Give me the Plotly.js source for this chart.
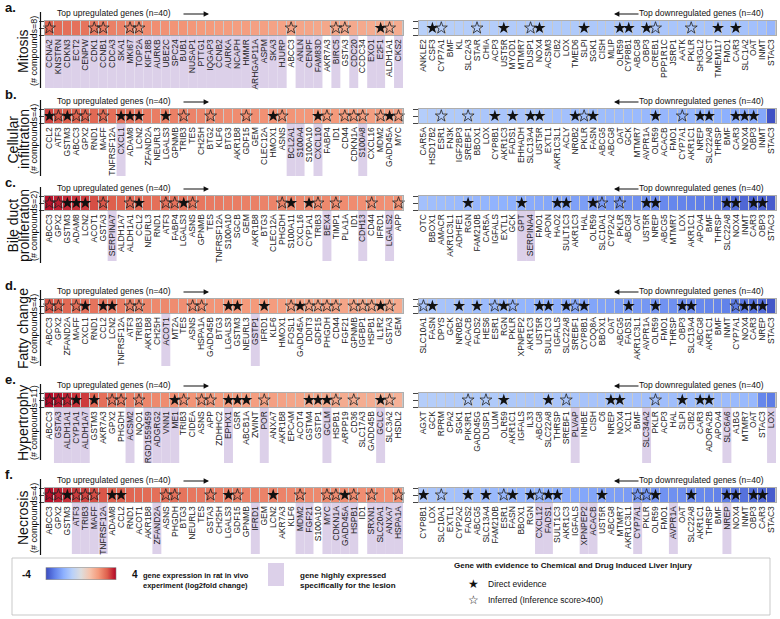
<!DOCTYPE html>
<html><head><meta charset="utf-8">
<script src="https://cdn.plot.ly/plotly-3.0.1.min.js"></script>
<style>body{margin:0;background:#fff}</style>
</head><body><div id="chart" style="width:780px;height:619px"></div>
<script>
// ---------------- DATA ----------------
const mitosisUpGenes = ['CCNA2','KNSTRN','CDKN3','ECT2','CENPW','CDK1','CCNB1','CDCA3','SKA1','MKI67','TOP2A','KIF18B','AURKB','UBE2C','SPC24','BUB1','NUSAP1','PTTG1','IQGAP3','CCNB2','AURKA','NCAPH','HMMR','ARHGAP11A','ASPM','SKA3','HJURP','ABCC3','ANLN','CENPF','FAM83D','AKR7A3','BIRC5','GSTA3','CDC20','CCDC34','EXO1','E2F1','ALDH1A1','CKS2'];
const mitosisUpValues = [2.9,2.8,2.75,2.7,2.65,2.55,2.5,2.45,2.4,2.35,2.3,2.25,2.2,2.15,2.1,2.1,2.05,2.0,2.0,1.95,1.95,1.9,1.9,1.85,1.85,1.8,1.8,1.8,1.75,1.75,1.7,1.7,1.7,1.65,1.65,1.65,1.6,1.6,1.6,1.6];
const mitosisUpDirect = ['E2F1'];
const mitosisUpInferred = ['CCNA2','CDK1','CCNB1','MKI67','TOP2A','ABCC3','BIRC5','GSTA3','ALDH1A1'];
const mitosisUpSpecific = ['CCNA2','KNSTRN','CDKN3','ECT2','CENPW','CDK1','CCNB1','CDCA3','SKA1','MKI67','TOP2A','KIF18B','AURKB','UBE2C','SPC24','BUB1','NUSAP1','PTTG1','IQGAP3','CCNB2','AURKA','NCAPH','HMMR','ARHGAP11A','ASPM','SKA3','HJURP','ANLN','CENPF','FAM83D','BIRC5','CDC20','EXO1','E2F1','CKS2'];

const mitosisDownGenes = ['ANKLE2','CSF3','CYP7A1','BMF','KL','SLC2A3','STAR','CHIA','ACP3','UST5R','MYOD1','MTMR7','DUSP1','NOX4','ACSM3','CIB2','LOX','TMED6','SLPI','SGK1','CISH','MLIP','OLR59','CYP8B1','ABCG8','OBP3','CREB1','PPP1R1C','JSRP1','AATK','PKLR','SH3GL2','NOCT','TMEM117','FMO1','CAR3','SLC1A2','OAT','INMT','STAC3'];
const mitosisDownValues = [-1.0,-1.0,-1.05,-1.05,-1.05,-1.1,-1.1,-1.1,-1.1,-1.15,-1.15,-1.15,-1.15,-1.2,-1.2,-1.2,-1.2,-1.2,-1.25,-1.25,-1.25,-1.25,-1.25,-1.3,-1.3,-1.3,-1.3,-1.3,-1.35,-1.35,-1.35,-1.35,-1.4,-1.4,-1.4,-1.45,-1.45,-1.5,-1.55,-1.8];
const mitosisDownDirect = ['CSF3','UST5R','NOX4','SLPI','OLR59','CYP8B1','OBP3','TMEM117','CAR3'];
const mitosisDownInferred = ['CYP7A1','STAR','DUSP1','CREB1','PKLR'];
const mitosisDownSpecific = [];

const cellUpGenes = ['CCL2','ATF3','GSTM3','ABCC3','GPX2','RND1','MAFF','TNFRSF12A','CXCL1','ADAM8','LCN2','ZFAND2A','NEURL3','LGALS3','GPNMB','TRIB3','TES','CH25H','BTG2','KLF6','BTG3','AKR1B8','GDF15','GEM','CLEC12A','HMOX1','ASNS','BCL2A1','S100A4','S100A10','CXCL10','FABP4','ID1','CD44','CDKN1A','S100A8','CXCL16','MDM2','GADD45A','MYC'];
const cellUpValues = [3.3,3.1,3.0,2.95,2.9,2.85,2.8,2.75,2.7,2.65,2.6,2.55,2.5,2.45,2.45,2.4,2.4,2.35,2.3,2.3,2.25,2.25,2.2,2.2,2.15,2.15,2.1,2.1,2.05,2.05,2.0,2.0,2.0,1.95,1.95,1.9,1.9,1.9,1.85,1.85];
const cellUpDirect = ['CCL2','GSTM3','CXCL1','ADAM8','LCN2','LGALS3','HMOX1','CXCL10','GADD45A'];
const cellUpInferred = ['ATF3','ABCC3','GPX2','MAFF','TRIB3','BTG2','GDF15','ASNS','FABP4','CD44','CDKN1A','S100A8','MDM2','MYC'];
const cellUpSpecific = ['CXCL1','BCL2A1','S100A4','CXCL10','S100A8'];

const cellDownGenes = ['CAR5A','HSD17B2','ESR1','FN3K','IGF2BP3','SREBF1','BBOX1','LOX','CYP8B1','AKR1C3','FADS1','EHHADH','SLC13A4','UST5R','EXTL1','AKR1C3L1','ACLY','NR0B2','PKLR','FASN','ABCG5','ABCG8','OAT','GCK','MTMR7','AVPR1A','OLR59','ACACB','FMO1','CYP7A1','AKR1C1','NREP','SLC22A8','THRSP','BMF','CAR3','NOX4','OBP3','INMT','STAC3'];
const cellDownValues = [-1.1,-1.15,-1.15,-1.2,-1.2,-1.25,-1.25,-1.3,-1.3,-1.35,-1.35,-1.4,-1.4,-1.45,-1.45,-1.5,-1.5,-1.55,-1.55,-1.6,-1.6,-1.65,-1.65,-1.7,-1.7,-1.75,-1.75,-1.8,-1.8,-1.85,-1.85,-1.9,-1.9,-1.95,-2.0,-2.05,-2.1,-2.15,-2.2,-3.9];
const cellDownDirect = ['CYP8B1','FADS1','SLC13A4','UST5R','NR0B2','FASN','OLR59','NREP','SLC22A8','CAR3','NOX4','OBP3'];
const cellDownInferred = ['ESR1','SREBF1','PKLR','CYP7A1'];
const cellDownSpecific = [];

const bileUpGenes = ['ABCC3','GPX2','GSTM3','ADAM8','LCN2','ACOT1','GSTA3','SERPINA7','ALDH1A7','ALDH1A1','CCL2','NEURL3','RND1','ATF3','FABP4','LGALS3','ASNS','GPNMB','TES','TNFRSF12A','S100A10','SGCB','GEM','AKR1B8','BTG3','CLEC12A','PHGDH','S100A11','CXCL16','CYP1A1','TRIB3','BEX4','TIMP1','PLA1A','ID1','CDH13','CD44','IFRD1','LGALS2','APP'];
const bileUpValues = [3.85,3.7,3.6,3.5,3.4,3.2,3.1,3.0,2.95,2.9,2.85,2.8,2.75,2.7,2.7,2.65,2.6,2.6,2.55,2.55,2.5,2.5,2.45,2.45,2.4,2.4,2.4,2.35,2.35,2.3,2.3,2.3,2.25,2.25,2.25,2.2,2.2,2.2,2.15,2.15];
const bileUpDirect = ['GSTM3','ADAM8','LCN2','CCL2','LGALS3','S100A11','CYP1A1'];
const bileUpInferred = ['ABCC3','GPX2','GSTA3','ALDH1A1','ATF3','FABP4','ASNS','PHGDH','TRIB3','TIMP1','CD44','APP'];
const bileUpSpecific = ['SERPINA7','BEX4','CDH13','LGALS2'];

const bileDownGenes = ['OTC','BBOX1','AMACR','AKR1C3L1','ADHFE1','RGN','FAM210B','CAR5A','IGFALS','EXTL1','GCK','GPT','SERPINA4','FMO1','APON','HAO2','SULT1C3','AKR1C3','HAL','OLR59','SLC10A1','CYP2A2','PKLR','ABCG8','OAT','UST5R','NREP','ABCG5','MTMR7','LOX','AKR1C1','APOA4','BMF','THRSP','SLC22A8','NOX4','INMT','CAR3','OBP3','STAC3'];
const bileDownValues = [-1.5,-1.55,-1.6,-1.65,-1.7,-1.75,-1.8,-1.85,-1.9,-1.95,-2.0,-2.05,-2.1,-2.15,-2.2,-2.25,-2.3,-2.35,-2.4,-2.45,-2.5,-2.55,-2.6,-2.65,-2.7,-2.75,-2.8,-2.85,-2.9,-2.95,-3.0,-3.05,-3.1,-3.15,-3.4,-3.45,-3.5,-3.55,-3.6,-3.7];
const bileDownDirect = ['RGN','GPT','HAO2','SULT1C3','OLR59','UST5R','NREP','SLC22A8','NOX4','CAR3','OBP3'];
const bileDownInferred = ['SLC10A1','PKLR'];
const bileDownSpecific = ['GPT','SERPINA4'];

const fattyUpGenes = ['ABCC3','GPX2','ZFAND2A','MAFF','CXCL1','RND1','CCL2','LCN2','TNFRSF12A','ATF3','TRIB3','AKR1B8','CH25H','ACOT1','MT2A','TES','ASNS','HSPA1A','GADD45B','BTG3','LGALS3','GSTM3','NEURL3','GSTP1','IFRD1','KLF6','HMOX1','FOSL1','GADD45A','DDIT3','GDF15','PHGDH','CD44','FGF21','GPNMB','IGFBP1','HSPB1','IL1R2','GSTA3','GEM'];
const fattyUpValues = [3.1,2.95,2.85,2.75,2.7,2.65,2.6,2.55,2.5,2.45,2.4,2.35,2.3,2.3,2.25,2.2,2.2,2.15,2.1,2.1,2.05,2.05,2.0,2.0,1.95,1.95,1.9,1.9,1.85,1.85,1.8,1.8,1.8,1.75,1.75,1.7,1.7,1.7,1.65,1.65];
const fattyUpDirect = ['CXCL1','CCL2','LCN2','LGALS3','GSTM3','IFRD1','GADD45A','IL1R2'];
const fattyUpInferred = ['ABCC3','GPX2','MAFF','ATF3','TRIB3','ASNS','HSPA1A','FOSL1','DDIT3','GDF15','PHGDH','CD44','GPNMB','IGFBP1','HSPB1','GSTA3'];
const fattyUpSpecific = ['ACOT1','GSTP1'];

const fattyDownGenes = ['SLC10A1','FASN','DPYS','GCK','NR0B2','ACACB','FADS2','HES6','ESR1','RGN','PKLR','XPNPEP2','AKR1C3','UST5R','SULT1C3','IGFALS','SLC22A8','SREBF1','CYP8B1','COQ8A','BBOX1','OAT','ABCG5','FADS1','AKR1C3L1','AVPR1A','OLR59','FMO1','THRSP','OBP3','SLC13A4','ABCG8','AKR1C1','BMF','INMT','CYP7A1','NOX4','CAR3','NREP','STAC3'];
const fattyDownValues = [-1.3,-1.35,-1.4,-1.45,-1.5,-1.55,-1.6,-1.65,-1.7,-1.75,-1.8,-1.85,-1.9,-1.95,-2.0,-2.05,-2.1,-2.15,-2.2,-2.25,-2.3,-2.35,-2.4,-2.45,-2.5,-2.55,-2.6,-2.65,-2.7,-2.75,-2.8,-2.85,-2.9,-2.95,-3.0,-3.1,-3.2,-3.3,-3.4,-3.8];
const fattyDownDirect = ['FASN','NR0B2','FADS2','RGN','UST5R','SULT1C3','SLC22A8','CYP8B1','FADS1','OLR59','OBP3','SLC13A4','NOX4','CAR3','NREP'];
const fattyDownInferred = ['SLC10A1','ESR1','PKLR','SREBF1','CYP7A1'];
const fattyDownSpecific = [];

const hyperUpGenes = ['ABCC3','GSTA3','ALDH1A1','CYP1A1','ALDH1A7','GSTM3','AKR7A3','GPX2','PHGDH','ACSM2','NQO1','RGD1559459','ADGRG2','VNN1','ME1','TRIB3','CIDEA','ASNS','APP','ZDHHC2','EPHX1','GSR','ABCB1A','ZWINT','POR','ANXA7','AKR1B8','EPCAM','ACOT4','GSTM4','GSTP1','GCLM','HSPB1','ARPP19','CD36','SLC17A3','GADD45B','GCLC','SLC3A2','HSDL2'];
const hyperUpValues = [3.95,3.8,3.65,3.5,3.4,2.9,2.75,2.6,2.5,2.45,2.4,2.35,2.3,2.25,2.2,2.15,2.1,2.1,2.05,2.0,2.0,1.95,1.9,1.9,1.85,1.85,1.8,1.75,1.75,1.7,1.7,1.65,1.65,1.6,1.6,1.55,1.55,1.5,1.5,1.45];
const hyperUpDirect = ['CYP1A1','GSTM3','ME1','EPHX1','GSR','ABCB1A','GSTM4','GSTP1','GCLM','GCLC'];
const hyperUpInferred = ['ABCC3','GSTA3','ALDH1A1','GPX2','PHGDH','NQO1','TRIB3','ASNS','APP','POR','HSPB1','CD36','SLC3A2'];
const hyperUpSpecific = ['GSTA3','ALDH1A1','CYP1A1','ALDH1A7','ACSM2','RGD1559459','ADGRG2','VNN1','ME1','EPHX1','POR','GCLM','GCLC'];

const hyperDownGenes = ['AGXT','GCK','RPRM','CPA2','SGK1','PIK3R1','GADD45G','DUSP1','LUM','OLR59','AKR1C1','IGFALS','IL33','ABCG8','SLC22A8','THRSP','SREBF1','PLVAP','INHBE','CISH','C6','NREP','NOX4','XCL1','BMF','SLC34A2','PKLR','ACP3','HAL','SLPI','CIB2','CAR3','ADORA2B','APOA4','SLC6A6','A1BG','MTMR7','OAT','STAC3','LOX'];
const hyperDownValues = [-1.1,-1.1,-1.1,-1.15,-1.15,-1.15,-1.2,-1.2,-1.2,-1.25,-1.25,-1.25,-1.3,-1.3,-1.3,-1.35,-1.35,-1.35,-1.4,-1.4,-1.4,-1.45,-1.45,-1.45,-1.5,-1.5,-1.5,-1.55,-1.55,-1.55,-1.6,-1.6,-1.6,-1.65,-1.65,-1.7,-1.7,-1.75,-2.9,-3.1];
const hyperDownDirect = ['OLR59','SLC22A8','NREP','NOX4','SLPI','CAR3','ADORA2B'];
const hyperDownInferred = ['PIK3R1','DUSP1','SREBF1','PKLR'];
const hyperDownSpecific = ['PLVAP','SLC34A2','SLC6A6','LOX'];

const necroUpGenes = ['ABCC3','GPX2','GSTM3','ATF3','TRIB3','MAFF','TNFRSF12A','ADAM8','CCL2','RND1','ACOT1','AKR1B8','ZFAND2A','ASNS','PHGDH','BTG3','NEURL3','TES','GSTA3','CH25H','LGALS3','GDF15','GPNMB','IFRD1','GEM','LCN2','AKR7A3','KLF6','MDM2','FGF21','S100A10','MYC','CDKN1A','GADD45A','HSPB1','ID1','SRXN1','SLC20A1','ANXA7','HSPA1A'];
const necroUpValues = [3.9,3.7,3.55,3.4,3.3,3.2,3.1,3.0,2.95,2.9,2.85,2.8,2.75,2.7,2.7,2.65,2.6,2.6,2.55,2.55,2.5,2.5,2.45,2.45,2.4,2.4,2.4,2.35,2.35,2.3,2.3,2.3,2.25,2.25,2.25,2.2,2.2,2.2,2.15,2.15];
const necroUpDirect = ['GSTM3','ADAM8','CCL2','LGALS3','LCN2','GADD45A'];
const necroUpInferred = ['ABCC3','GPX2','ATF3','TRIB3','MAFF','ASNS','PHGDH','GSTA3','GDF15','MDM2','MYC','CDKN1A','HSPB1','SRXN1','HSPA1A'];
const necroUpSpecific = ['ATF3','TRIB3','MAFF','TNFRSF12A','ZFAND2A','IFRD1','MDM2','FGF21','MYC','CDKN1A','GADD45A','HSPB1','SRXN1','SLC20A1','ANXA7','HSPA1A'];

const necroDownGenes = ['CYP8B1','LOX','SLC10A1','EXTL1','CYP2A2','FADS2','ABCG5','SLC13A4','FAM210B','ESR1','FASN','BBOX1','RGN','CXCL12','FADS1','SULT1C3','AKR1C3','IGFALS','XPNPEP2','ACACB','UST5R','ABCG8','MTMR7','AKR1C3L1','CYP7A1','PKLR','OLR59','FMO1','AVPR1A','OAT','SLC22A8','AKR1C1','THRSP','BMF','NREP','NOX4','INMT','OBP3','CAR3','STAC3'];
const necroDownValues = [-1.3,-1.35,-1.4,-1.45,-1.5,-1.55,-1.6,-1.65,-1.7,-1.75,-1.8,-1.85,-1.9,-1.95,-2.0,-2.05,-2.1,-2.15,-2.2,-2.25,-2.3,-2.35,-2.4,-2.45,-2.5,-2.55,-2.6,-2.65,-2.7,-2.75,-2.8,-2.85,-2.9,-3.0,-3.1,-3.2,-3.3,-3.4,-3.5,-3.7];
const necroDownDirect = ['CYP8B1','FADS2','SLC13A4','FASN','RGN','FADS1','SULT1C3','UST5R','OLR59','SLC22A8','NREP','NOX4','OBP3','CAR3'];
const necroDownInferred = ['SLC10A1','ESR1','CXCL12','CYP7A1','PKLR'];
const necroDownSpecific = ['CXCL12','FADS1','XPNPEP2','ACACB','CYP7A1','AVPR1A','NREP'];

const panelLetters = ['a.','b.','c.','d.','e.','f.'];
const panelTitleLines = [['Mitosis'],['Cellular','infiltration'],['Bile duct','proliferation'],['Fatty change'],['Hypertrophy'],['Necrosis']];
const panelCompounds = ['(# compounds=8)','(# compounds=4)','(# compounds=2)','(# compounds=4)','(# compounds=11)','(# compounds=4)'];

// ---------------- LAYOUT HELPERS ----------------
const W = 780, H = 619;
const px = x => x / W, py = y => 1 - y / H;
const FONT = 'Liberation Sans, Arial, Helvetica, sans-serif';
const PURPLE = '#dcd0e9';
const stripTops = [21, 109, 196, 299, 393, 488];
const stripH = 14;
const purpleH = [53, 53, 51, 53, 56, 52];
const upX = [45, 403], downX = [419, 776];
const LEG = 8; // legend vertical offset

const panels = [
  {up:[mitosisUpGenes,mitosisUpValues,mitosisUpDirect,mitosisUpInferred,mitosisUpSpecific],
   down:[mitosisDownGenes,mitosisDownValues,mitosisDownDirect,mitosisDownInferred,mitosisDownSpecific]},
  {up:[cellUpGenes,cellUpValues,cellUpDirect,cellUpInferred,cellUpSpecific],
   down:[cellDownGenes,cellDownValues,cellDownDirect,cellDownInferred,cellDownSpecific]},
  {up:[bileUpGenes,bileUpValues,bileUpDirect,bileUpInferred,bileUpSpecific],
   down:[bileDownGenes,bileDownValues,bileDownDirect,bileDownInferred,bileDownSpecific]},
  {up:[fattyUpGenes,fattyUpValues,fattyUpDirect,fattyUpInferred,fattyUpSpecific],
   down:[fattyDownGenes,fattyDownValues,fattyDownDirect,fattyDownInferred,fattyDownSpecific]},
  {up:[hyperUpGenes,hyperUpValues,hyperUpDirect,hyperUpInferred,hyperUpSpecific],
   down:[hyperDownGenes,hyperDownValues,hyperDownDirect,hyperDownInferred,hyperDownSpecific]},
  {up:[necroUpGenes,necroUpValues,necroUpDirect,necroUpInferred,necroUpSpecific],
   down:[necroDownGenes,necroDownValues,necroDownDirect,necroDownInferred,necroDownSpecific]}
];

const coolwarm = [
  [0,'#3b4cc0'],[0.125,'#6282ea'],[0.25,'#8db0fe'],[0.375,'#b8d0f9'],[0.5,'#dddddd'],
  [0.625,'#f5c4ad'],[0.75,'#f49a7b'],[0.875,'#de604d'],[1,'#b40426']
];

const traces = [], shapes = [], annotations = [];
const layout = {
  width: W, height: H, margin: {l:0,r:0,t:0,b:0},
  paper_bgcolor: '#ffffff', plot_bgcolor: 'rgba(120,120,120,0.4)',
  font: {family: FONT, color: '#222'},
  showlegend: false,
  coloraxis: {
    cmin: -4, cmax: 4, colorscale: coolwarm,
    colorbar: {orientation:'h', x: px(81), xanchor:'center', y: py(566 + LEG), yanchor:'middle',
      len: 90/W, lenmode:'fraction', thickness: 12, thicknessmode:'pixels',
      showticklabels:false, ticks:'', outlinewidth:0.6, outlinecolor:'#888'}
  }
};

let k = 0;
panels.forEach((p, r) => {
  const top = stripTops[r];
  [['up', upX], ['down', downX]].forEach(([side, xr]) => {
    k += 1;
    const [genes, vals, direct, inferred, specific] = p[side];
    const xa = k === 1 ? 'x' : 'x' + k, ya = k === 1 ? 'y' : 'y' + k;
    const xName = k === 1 ? 'xaxis' : 'xaxis' + k, yName = k === 1 ? 'yaxis' : 'yaxis' + k;
    layout[xName] = {
      domain: [px(xr[0]), px(xr[1])], anchor: ya, type: 'category',
      categoryorder: 'array', categoryarray: genes, range: [-0.5, genes.length - 0.5],
      tickmode: 'array', tickvals: genes, ticktext: genes,
      tickangle: -90, tickfont: {size: 8.5, family: FONT, color: '#222'},
      ticks: '', showgrid: false, zeroline: false, showline: true, mirror: true,
      linecolor: '#9a9a9a', linewidth: 0.8, fixedrange: true, automargin: false
    };
    layout[yName] = {
      domain: [py(top + stripH), py(top)], anchor: xa, range: [-0.5, 0.5],
      showticklabels: false, showgrid: false, zeroline: false, showline: true, mirror: true,
      linecolor: '#9a9a9a', linewidth: 0.8, fixedrange: true
    };
    traces.push({type:'heatmap', x: genes, y: [0], z: [vals], coloraxis: 'coloraxis',
      xgap: 1, xaxis: xa, yaxis: ya, hoverinfo: 'skip'});
    traces.push({type:'scatter', mode:'markers', x: direct, y: direct.map(() => 0),
      xaxis: xa, yaxis: ya, hoverinfo:'skip', cliponaxis:false,
      marker: {symbol:'star', size: 9, color:'#111', line:{width:0}}});
    traces.push({type:'scatter', mode:'markers', x: inferred, y: inferred.map(() => 0),
      xaxis: xa, yaxis: ya, hoverinfo:'skip', cliponaxis:false,
      marker: {symbol:'star-open', size: 9, color:'#222', line:{width:0.8, color:'#222'}}});
    specific.forEach(g => {
      const i = genes.indexOf(g);
      shapes.push({type:'rect', layer:'below', xref: xa, yref: ya + ' domain',
        x0: i - 0.5, x1: i + 0.5, y0: -purpleH[r] / stripH, y1: 0,
        fillcolor: PURPLE, line: {width: 0}});
    });
  });

  // panel letter
  annotations.push({xref:'paper', yref:'paper', x: px(3), y: py(top - 14), xanchor:'left', yanchor:'middle',
    text: '<b>' + panelLetters[r] + '</b>', showarrow:false, font:{size:13, color:'#111'}});
  // panel title lines (rotated)
  const lines = panelTitleLines[r];
  const xs = lines.length === 2 ? [12.5, 24] : [23];
  lines.forEach((ln, j) => {
    annotations.push({xref:'paper', yref:'paper', x: px(xs[j]), y: py(top + 30),
      xanchor:'center', yanchor:'middle', textangle:-90, text: ln, showarrow:false,
      font:{size:14, color:'#111'}});
  });
  annotations.push({xref:'paper', yref:'paper', x: px(34), y: py(top + 30),
    xanchor:'center', yanchor:'middle', textangle:-90, text: panelCompounds[r], showarrow:false,
    font:{size:9, color:'#111'}});
  // vertical rule
  shapes.push({type:'line', xref:'paper', yref:'paper', x0: px(40.5), x1: px(40.5),
    y0: py(top - 9), y1: py(top + 67), line:{color:'#111', width:1.2}});
  // up header
  annotations.push({xref:'paper', yref:'paper', x: px(55), y: py(top - 8), xanchor:'left', yanchor:'middle',
    text:'Top upregulated genes (n=40)', showarrow:false, font:{size:8.5, color:'#111'}});
  annotations.push({xref:'paper', yref:'paper', x: px(209), y: py(top - 7), ax: -27, ay: 0,
    text:'', showarrow:true, arrowhead:2, arrowsize:0.9, arrowwidth:1.2, arrowcolor:'#111'});
  // down header
  annotations.push({xref:'paper', yref:'paper', x: px(766), y: py(top - 8), xanchor:'right', yanchor:'middle',
    text:'Top downregulated genes (n=40)', showarrow:false, font:{size:8.5, color:'#111'}});
  annotations.push({xref:'paper', yref:'paper', x: px(614), y: py(top - 7), ax: 26, ay: 0,
    text:'', showarrow:true, arrowhead:2, arrowsize:0.9, arrowwidth:1.2, arrowcolor:'#111'});
});

// ---------------- LEGEND ----------------
shapes.push({type:'rect', xref:'paper', yref:'paper', x0: px(12), x1: px(770), y0: py(607 + LEG), y1: py(550 + LEG),
  line:{color:'#bbbbbb', width:0.8}, fillcolor:'rgba(0,0,0,0)'});
annotations.push({xref:'paper', yref:'paper', x: px(33), y: py(566 + LEG), xanchor:'right', yanchor:'middle',
  text:'<b>-4</b>', showarrow:false, font:{size:10, color:'#111'}});
annotations.push({xref:'paper', yref:'paper', x: px(130), y: py(566 + LEG), xanchor:'left', yanchor:'middle',
  text:'<b>4</b>', showarrow:false, font:{size:10, color:'#111'}});
annotations.push({xref:'paper', yref:'paper', x: px(141), y: py(572 + LEG), xanchor:'left', yanchor:'middle', align:'left',
  text:'<b>gene expression in rat in vivo<br>experiment (log2fold change)</b>', showarrow:false, font:{size:7.5, color:'#111'}});
shapes.push({type:'rect', xref:'paper', yref:'paper', x0: px(268), x1: px(284), y0: py(578 + LEG), y1: py(555 + LEG),
  fillcolor: PURPLE, line:{width:0}});
annotations.push({xref:'paper', yref:'paper', x: px(298), y: py(572 + LEG), xanchor:'left', yanchor:'middle', align:'left',
  text:'<b>gene highly expressed<br>specifically for the lesion</b>', showarrow:false, font:{size:8, color:'#111'}});
annotations.push({xref:'paper', yref:'paper', x: px(452), y: py(557 + LEG), xanchor:'left', yanchor:'middle',
  text:'<b>Gene with evidence to Chemical and Drug Induced Liver Injury</b>', showarrow:false, font:{size:8, color:'#111'}});
annotations.push({xref:'paper', yref:'paper', x: px(474), y: py(576 + LEG), xanchor:'center', yanchor:'middle',
  text:'★', showarrow:false, font:{size:12, color:'#111', family:'DejaVu Sans'}});
annotations.push({xref:'paper', yref:'paper', x: px(486), y: py(576 + LEG), xanchor:'left', yanchor:'middle',
  text:'Direct evidence', showarrow:false, font:{size:8.5, color:'#111'}});
annotations.push({xref:'paper', yref:'paper', x: px(474), y: py(592 + LEG), xanchor:'center', yanchor:'middle',
  text:'☆', showarrow:false, font:{size:12, color:'#111', family:'DejaVu Sans'}});
annotations.push({xref:'paper', yref:'paper', x: px(486), y: py(592 + LEG), xanchor:'left', yanchor:'middle',
  text:'Inferred (Inference score>400)', showarrow:false, font:{size:8.5, color:'#111'}});

layout.shapes = shapes;
layout.annotations = annotations;

Plotly.newPlot('chart', traces, layout, {displayModeBar:false, staticPlot:true});
</script>
</body></html>
